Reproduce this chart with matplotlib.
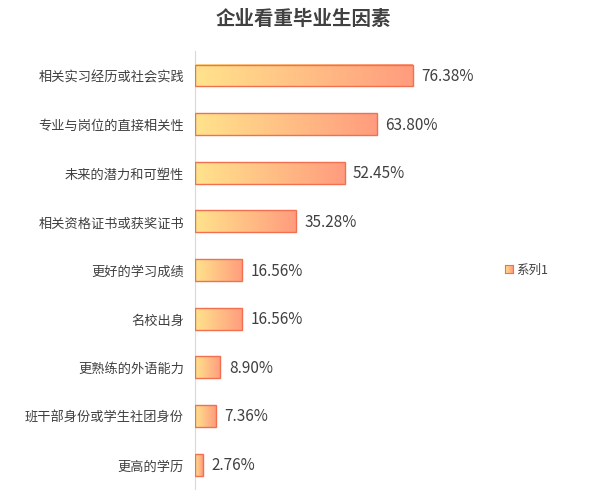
import matplotlib
matplotlib.use("Agg")
import matplotlib.pyplot as plt
import numpy as np
from matplotlib.colors import LinearSegmentedColormap

plt.rcParams['font.family'] = ['Noto Sans CJK SC', 'DejaVu Sans']

categories = ['相关实习经历或社会实践', '专业与岗位的直接相关性', '未来的潜力和可塑性',
              '相关资格证书或获奖证书', '更好的学习成绩', '名校出身',
              '更熟练的外语能力', '班干部身份或学生社团身份', '更高的学历']
values = [76.38, 63.80, 52.45, 35.28, 16.56, 16.56, 8.90, 7.36, 2.76]
labels = ['76.38%', '63.80%', '52.45%', '35.28%', '16.56%', '16.56%', '8.90%', '7.36%', '2.76%']

cmap = LinearSegmentedColormap.from_list('g', ['#FFE38C', '#FF9C7E'])
grad = np.linspace(0, 1, 256).reshape(1, -1)

fig = plt.figure(figsize=(6.06, 5.02), dpi=100)
ax = fig.add_axes([0.322, 0.024, 0.47, 0.872])

h = 0.45
for i, (v, lab) in enumerate(zip(values, labels)):
    ax.imshow(grad, cmap=cmap, aspect='auto', extent=[0, v, i - h / 2, i + h / 2], zorder=2)
    ax.text(v + 3, i, lab, va='center', ha='left', fontsize=11, color='#404040')
ax.barh(range(len(values)), values, height=h, facecolor='none', edgecolor='#F07050', linewidth=1, zorder=3)

ax.set_xlim(0, 100)
ax.set_ylim(len(values) - 0.5, -0.5)
ax.set_yticks(range(len(values)))
ax.set_yticklabels(categories, fontsize=9.5, color='#404040')
ax.tick_params(axis='y', length=0, pad=8)
ax.set_xticks([])
for s in ['top', 'right', 'bottom']:
    ax.spines[s].set_visible(False)
ax.spines['left'].set_color('#D9D9D9')

fig.text(0.5, 0.962, '企业看重毕业生因素', ha='center', va='center', fontsize=14,
         fontweight='bold', color='#404040')

# legend
lax = fig.add_axes([505 / 606, 1 - 274 / 502, 8 / 606, 8 / 502])
lax.imshow(grad, cmap=cmap, aspect='auto')
lax.set_xticks([]); lax.set_yticks([])
for s in lax.spines.values():
    s.set_color('#F07050')
fig.text(516 / 606, 1 - 270 / 502, '系列1', ha='left', va='center', fontsize=9, color='#404040')

fig.savefig('out.png', dpi=100)
